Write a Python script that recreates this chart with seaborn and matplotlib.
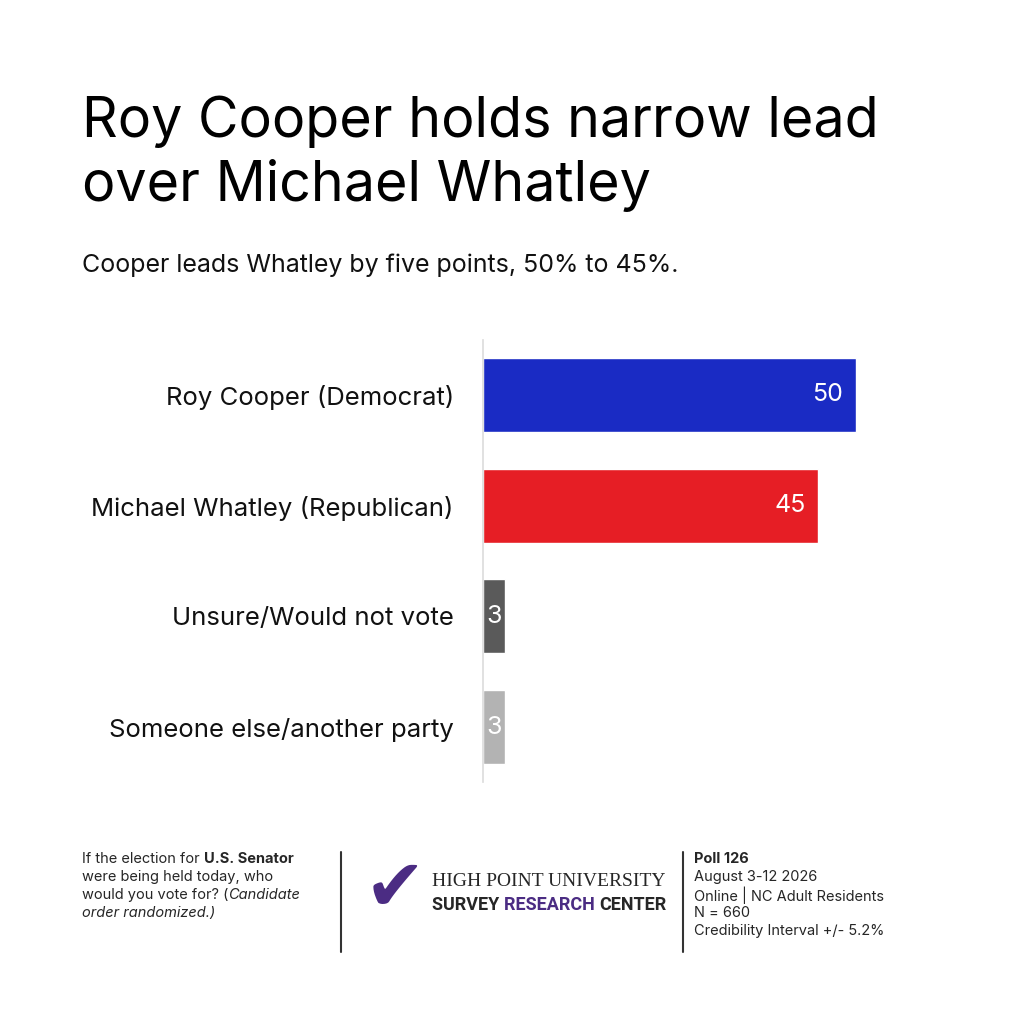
import matplotlib
matplotlib.use("Agg")
import matplotlib.pyplot as plt
import seaborn as sns
import pandas as pd

categories = ["Roy Cooper (Democrat)", "Michael Whatley (Republican)", "Unsure/Would not vote", "Someone else/another party"]
values = [50, 45, 3, 3]
colors = ["#1a2bc4", "#e61e25", "#5a5a5a", "#b3b3b3"]

sns.set_theme(style="white")
plt.rcParams["font.family"] = ["Inter", "DejaVu Sans"]

fig = plt.figure(figsize=(10.24, 10.24), dpi=100)
ax = fig.add_axes([483/1024, 1-782/1024, 447/1024, 442/1024])
df = pd.DataFrame({"cat": categories, "val": values})
sns.barplot(data=df, x="val", y="cat", hue="cat", palette=colors, legend=False, width=0.67, ax=ax, saturation=1)
ax.set_xlim(0, 60)
ax.set_ylim(3.495, -0.495)
ax.set_xlabel(""); ax.set_ylabel("")
ax.set_xticks([])
for s in ["top", "right", "bottom"]:
    ax.spines[s].set_visible(False)
ax.spines["left"].set_color("#dddddd")
ax.tick_params(axis="y", length=0, pad=21, labelsize=18.5, labelcolor="#111111")
for i, v in enumerate(values):
    ax.text(v - 1.7 if v > 5 else v / 2, i, str(v), ha="right" if v > 5 else "center", va="center",
            color="white", fontsize=18)

fig.text(82/1024, 1-122/1024, "Roy Cooper holds narrow lead", fontsize=40, va="center", color="black")
fig.text(82/1024, 1-186/1024, "over Michael Whatley", fontsize=40, va="center", color="black")
fig.text(82/1024, 1-265/1024, "Cooper leads Whatley by five points, 50% to 45%.", fontsize=18, va="center", color="#111111")

renderer = fig.canvas.get_renderer()

def runs(x_px, y_px, parts):
    x = x_px
    for s, kw in parts:
        t = fig.text(x/1024, 1-y_px/1024, s, va="center", **kw)
        x += t.get_window_extent(renderer).width

fs = 10.5
runs(82, 859, [("If the election for ", dict(fontsize=fs)), ("U.S. Senator", dict(fontsize=fs, weight="bold"))])
runs(82, 877, [("were being held today, who", dict(fontsize=fs))])
runs(82, 895, [("would you vote for? (", dict(fontsize=fs)), ("Candidate", dict(fontsize=fs, style="italic"))])
runs(82, 913, [("order randomized.)", dict(fontsize=fs, style="italic"))])

fig.add_artist(plt.Line2D([341/1024]*2, [1-852/1024, 1-952/1024], color="#333333", lw=1.5))
fig.add_artist(plt.Line2D([683/1024]*2, [1-852/1024, 1-952/1024], color="#333333", lw=1.5))

fig.text(395/1024, 1-890/1024, "\u2714", fontsize=52, color="#4b2c83", ha="center", va="center", family="DejaVu Sans")
fig.text(432/1024, 1-882/1024, "HIGH POINT UNIVERSITY", fontsize=14, family="Liberation Serif", va="center")
lk = dict(fontsize=13, weight="bold", family="Roboto")
runs(432, 905, [("SURVEY ", dict(**lk)), ("RESEARCH ", dict(color="#4b2c83", **lk)), ("CENTER", dict(**lk))])

fig.text(694/1024, 1-859/1024, "Poll 126", fontsize=fs, va="center", weight="bold")
for k, line in enumerate(["August 3-12 2026", "Online | NC Adult Residents", "N = 660", "Credibility Interval +/- 5.2%"]):
    fig.text(694/1024, 1-(877+18*k)/1024, line, fontsize=fs, va="center")

fig.savefig("out.png", dpi=100, facecolor="white")
